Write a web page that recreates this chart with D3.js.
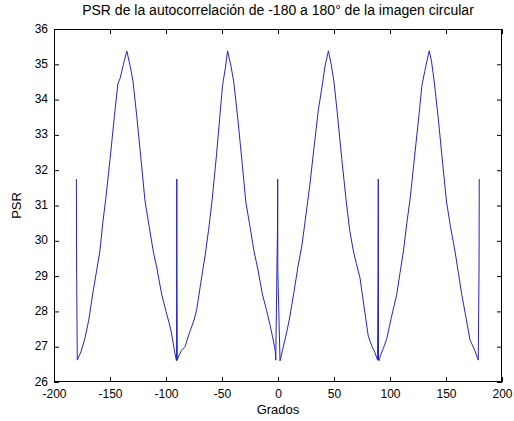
<!DOCTYPE html>
<html>
<head>
<meta charset="utf-8">
<script src="https://cdn.jsdelivr.net/npm/d3@7"></script>
<style>
  body { margin: 0; background: #fff; }
  text { font-family: "Liberation Sans", Arial, sans-serif; }
</style>
</head>
<body>
<div id="chart"></div>
<script>
// angles (grados) and PSR values
const angles = [
  -180, -179.8, -179.2, -176, -172.5, -169, -165, -162, -159, -156.5, -154, -150, -146, -143, -141, -138, -135,
  -132, -129.5, -126, -122, -118.75, -115, -111.4, -108, -103.9, -100, -97, -95, -92.5, -91,
  -90.6, -90.45, -90.35, -90.25, -89.9,
  -88.5, -86, -83, -79, -75, -72.6, -69, -65, -62, -59, -55, -52, -49.5, -47, -45,
  -42, -39.5, -36, -32, -28.75, -25, -21.4, -18, -14, -10, -7, -5, -2.5, -2,
  -0.4, -0.27, -0.15, 1.8,
  4, 7, 10, 14, 18, 21.5, 25, 28.5, 32, 36, 39.5, 42, 45,
  47.5, 50, 53, 57, 61, 64, 67.3, 70, 73.2, 77, 80.6, 84, 86.6, 88.9,
  89.3, 89.55, 89.65, 89.75, 90.1,
  91.5, 94, 97, 101, 106, 109, 112, 115, 118, 122, 126, 128.5, 131, 133, 135,
  137, 139.5, 143, 147, 150.5, 154, 158, 161, 164, 168, 171.4, 175.9, 178.8,
  179.5, 179.7
];
const psr = [
  31.75, 29.2, 26.62, 26.85, 27.22, 27.75, 28.58, 29.15, 29.71, 30.5, 31.13, 32.3, 33.55, 34.44, 34.6, 35.0, 35.38,
  34.95, 34.53, 33.5, 32.2, 31.13, 30.4, 29.71, 29.2, 28.49, 28.0, 27.65, 27.36, 26.9, 26.65,
  26.6, 29.2, 31.75, 29.2, 26.62,
  26.75, 26.9, 27.0, 27.4, 27.75, 28.05, 28.8, 29.6, 30.3, 31.1, 32.4, 33.5, 34.4, 34.9, 35.38,
  34.95, 34.5, 33.5, 32.2, 31.1, 30.4, 29.7, 29.2, 28.5, 28.0, 27.6, 27.3, 26.9, 26.62,
  30.48, 31.75, 29.15, 26.6,
  26.9, 27.3, 27.75, 28.5, 29.3, 29.9, 30.75, 31.6, 32.6, 33.7, 34.4, 34.95, 35.38,
  35.0, 34.5, 33.6, 32.3, 31.1, 30.3, 29.71, 29.35, 28.95, 28.1, 27.3, 27.0, 26.83, 26.62,
  29.2, 31.75, 29.2, 26.62, 26.6,
  26.75, 26.95, 27.21, 27.8, 28.48, 29.1, 29.71, 30.5, 31.2, 32.4, 33.6, 34.4, 34.8, 35.1, 35.38,
  35.1, 34.5, 33.5, 32.2, 31.1, 30.4, 29.71, 29.1, 28.49, 27.8, 27.2, 26.88, 26.62,
  29.2, 31.75
];
const xTicks = [-200, -150, -100, -50, 0, 50, 100, 150, 200];
const yTicks = [26, 27, 28, 29, 30, 31, 32, 33, 34, 35, 36];

const title = "PSR de la autocorrelación de -180 a 180° de la imagen circular";
const xLabel = "Grados";
const yLabel = "PSR";

let width = 514,
  height = 421;
let margin = { top: 29, right: 12, bottom: 39, left: 54 };

let svg = d3.select("#chart")
  .append("svg")
  .attr("width", width)
  .attr("height", height);

svg.append("rect")
  .attr("width", width)
  .attr("height", height)
  .attr("fill", "#fff");

let x = d3.scaleLinear()
  .domain([-200, 200])
  .range([margin.left, width - margin.right]);

let y = d3.scaleLinear()
  .domain([26, 36])
  .range([height - margin.bottom, margin.top]);

let data = angles.map((a, i) => ({ a: a, v: psr[i] }));

let line = d3.line()
  .x(d => x(d.a))
  .y(d => y(d.v));

svg.append("path")
  .datum(data)
  .attr("fill", "none")
  .attr("stroke", "#2323cc")
  .attr("stroke-width", 1)
  .attr("d", line);

// axes, ticks pointing inward like matlab, plain hyphen for negatives
let fmt = d => String(d);

svg.append("g")
  .attr("transform", `translate(0,${height - margin.bottom})`)
  .call(d3.axisBottom(x).tickValues(xTicks).tickFormat(fmt).tickSizeInner(-5).tickSizeOuter(0).tickPadding(7));

svg.append("g")
  .attr("transform", `translate(0,${margin.top})`)
  .call(d3.axisTop(x).tickValues(xTicks).tickFormat("").tickSizeInner(-5).tickSizeOuter(0));

let gy = svg.append("g")
  .attr("transform", `translate(${margin.left},0)`)
  .call(d3.axisLeft(y).tickValues(yTicks).tickFormat(fmt).tickSizeInner(-5).tickSizeOuter(0).tickPadding(6));
gy.selectAll(".tick text").attr("dy", "0.25em");

svg.append("g")
  .attr("transform", `translate(${width - margin.right},0)`)
  .call(d3.axisRight(y).tickValues(yTicks).tickFormat("").tickSizeInner(-5).tickSizeOuter(0));

svg.selectAll(".domain").remove();
svg.selectAll(".tick line").attr("stroke", "#000");
svg.selectAll(".tick text")
  .attr("fill", "#000")
  .style("font-size", "12px")
  .style("font-family", "'Liberation Sans', Arial, sans-serif");

svg.append("rect")
  .attr("x", margin.left + 0.5)
  .attr("y", margin.top + 0.5)
  .attr("width", width - margin.left - margin.right - 1)
  .attr("height", height - margin.top - margin.bottom - 1)
  .attr("fill", "none")
  .attr("stroke", "#000");

svg.append("text")
  .attr("x", (margin.left + width - margin.right) / 2)
  .attr("y", 15)
  .attr("text-anchor", "middle")
  .style("font-size", "14px")
  .text(title);

svg.append("text")
  .attr("x", (margin.left + width - margin.right) / 2)
  .attr("y", 414)
  .attr("text-anchor", "middle")
  .style("font-size", "13px")
  .text(xLabel);

svg.append("text")
  .attr("transform", `translate(21,${(margin.top + height - margin.bottom) / 2}) rotate(-90)`)
  .attr("text-anchor", "middle")
  .style("font-size", "13px")
  .text(yLabel);
</script>
</body>
</html>
